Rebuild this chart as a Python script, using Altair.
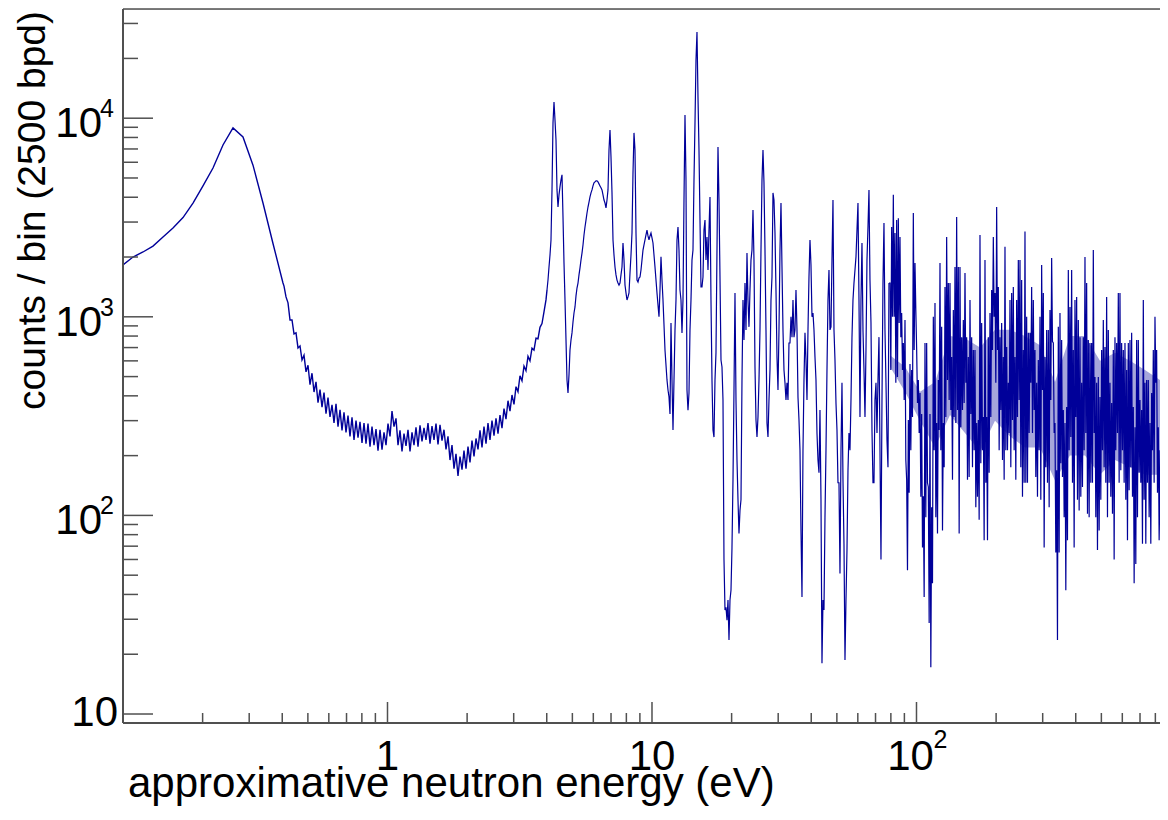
import altair as alt
import numpy as np
import pandas as pd

# ---- histogram contents (counts / bin), per energy segment ----
seg_a_range = [0.1, 0.4026]
seg_a = [1824, 2000, 2120, 2270, 2520, 2800, 3160, 3740, 4560, 5610, 7330, 8930,
         8040, 5800, 3740, 2340, 1480]

seg_b_range = [0.4062, 3.974]
seg_b = [1428, 1259, 1175, 964, 964, 820, 830, 697, 713, 606, 640, 528, 570, 455, 520,
         418, 470, 370, 430, 351, 415, 325, 392, 313, 360, 292, 365, 280, 340, 268, 330,
         262, 318, 250, 312, 240, 300, 246, 296, 232, 292, 230, 290, 222, 280, 226, 272,
         212, 270, 214, 262, 226, 290, 250, 335, 280, 308, 226, 268, 210, 258, 224, 270,
         210, 262, 226, 278, 222, 284, 236, 276, 240, 292, 230, 282, 240, 290, 228, 286,
         238, 270, 215, 250, 190, 226, 172, 204, 158, 198, 170, 212, 172, 222, 185, 238,
         198, 244, 215, 268, 220, 280, 230, 292, 240, 300, 252, 308, 258, 320, 275, 345,
         305, 378, 335, 404, 362, 445, 420, 505, 476, 565, 535, 632, 600, 695, 680, 780,
         775, 885, 925, 1060, 1216]

seg_c_range = [4.009, 78.7]
seg_c = [1365, 1531, 1781, 2047, 2437, 4355, 9462, 12076, 9795, 7760, 4355, 3571, 4111,
         4509, 4890, 5183, 3180, 1866, 1216, 764, 481, 413, 510, 681, 764, 830, 942, 1045,
         1121, 1274, 1396, 1479, 1625, 1762, 1932, 2094, 2300, 2582, 2831, 3070, 3332,
         3571, 3784, 4015, 4207, 4355, 4562, 4724, 4778, 4834, 4834, 4778, 4670, 4562,
         4460, 4355, 4111, 3873, 3741, 3532, 3873, 4355, 6920, 8730, 6380, 4207, 2437,
         2047, 1781, 1625, 1531, 1479, 1445, 1479, 1625, 1781, 2354, 1932, 1445, 1319,
         1216, 1259, 1319, 1663, 2047, 2642, 5303, 8433, 6920, 2642, 1531, 1496, 1568,
         1587, 1721, 1932, 2168, 2300, 2437, 2582, 2735, 2553, 2437, 2553, 2642, 2497,
         2354, 2047, 1781, 1531, 1319, 1148, 1000, 1365, 2003, 1531, 1216, 911, 681, 572,
         481, 428, 395, 324, 931, 481, 269, 481, 859, 1216, 2437, 2831, 2168, 1365, 1216,
         830, 1216, 3873, 10380, 4890, 428, 339, 413, 859, 1216, 1932, 2168, 4890, 9462,
         19630, 27160, 12800, 6920, 3070, 1413, 1413, 1587, 2735, 3070, 1932, 2520, 1721,
         2735, 4015, 1216, 481, 269, 248, 481, 660, 2168, 7160, 3873, 1587, 606, 559, 381,
         60, 33.4, 34.5, 29.7, 37.5, 23.6, 37.5, 42, 69, 151, 428, 1319, 381, 190, 120, 81,
         106, 120, 481, 1216, 764, 1479, 859, 2094, 1216, 890, 1365, 1932, 2168, 3449,
         1932, 559, 302, 248, 313, 481, 859, 2168, 4890, 6920, 4724, 2168, 859, 292, 248,
         381, 540, 1216, 1587, 4207, 3873, 2642, 1365, 628, 428, 859, 2168, 3741, 1781,
         859, 540, 465, 381, 465, 381, 738, 738, 1000, 790, 1216, 790, 859, 1365, 859, 395,
         302, 213, 84, 38.8, 213, 481, 830, 606, 381, 859, 1587, 2437, 1824, 1000, 1045,
         859, 628, 481, 260, 190, 164, 339, 120, 18, 37.5, 33.4, 98, 213, 540, 1216, 1721,
         859, 890, 1932, 3873, 859, 606, 368, 269, 146, 146, 51, 213, 465, 151, 72, 18.7,
         37.5, 67, 169, 260, 213, 381, 790, 1216, 1479, 1721, 2003, 2735, 3741, 1216, 313,
         1216, 2354, 859, 540, 313, 681, 1932, 2831, 4355, 1531, 931, 269, 146, 146, 381,
         465, 260, 481, 790, 213, 60, 381, 1479, 2970, 859, 465, 240, 175, 1479]

seg_d_range = [79.4, 889.0]
seg_d = [1479, 540, 2831, 1000, 4111, 1000, 2642, 465, 3070, 498, 3139, 931, 2520, 790,
         1045, 540, 738, 381, 964, 190, 151, 53, 302, 130, 578, 213, 540, 313, 3332, 681,
         1866, 1082, 681, 368, 481, 260, 413, 124, 324, 69, 125, 38.8, 738, 98, 738, 146,
         139, 28.7, 324, 17.2, 110, 45.6, 1000, 213, 1175, 98, 292, 81, 481, 269, 1866,
         213, 890, 84, 292, 175, 1413, 313, 2520, 481, 1479, 381, 1479, 339, 628, 151,
         1082, 313, 1781, 292, 3180, 339, 1781, 81, 1781, 278, 790, 339, 964, 368, 1663,
         465, 790, 151, 628, 156, 1216, 324, 790, 175, 681, 213, 681, 110, 292, 124, 302,
         95, 2582, 183, 931, 213, 313, 75, 1932, 146, 313, 75, 790, 164, 1045, 313, 1365,
         681, 2520, 1000, 1319, 465, 3571, 681, 1413, 213, 790, 339, 931, 190, 628, 151,
         2254, 213, 705, 213, 465, 260, 1216, 175, 1319, 302, 1413, 213, 628, 151, 1216,
         313, 1932, 381,
         1932, 175, 1531, 124, 681, 146, 2685, 146, 1000, 146, 830, 260, 830, 465, 1413,
         260, 1216, 339, 681, 156, 465, 124, 606, 213, 1000, 120, 1824, 428, 1319, 69, 628,
         175, 859, 146, 859, 110, 1082, 381, 1977, 750, 738, 260, 292, 65, 169, 23.6, 890,
         65, 1045, 183, 764, 156, 339, 98, 292, 42, 351, 75, 1721, 213, 1121, 248, 1721,
         146, 681, 69, 1216, 313, 1259, 120, 964, 106, 790, 124, 465, 139, 790, 213, 2003,
         260, 1479, 102, 764, 98, 738, 146, 738, 146, 2168, 260, 498, 98, 465, 67, 498, 84,
         395, 120, 681, 213, 964, 175, 705, 146, 1259, 98, 859, 146, 465, 124, 368, 102,
         681, 60, 790, 213, 738, 260, 1319, 146, 1319, 169, 738, 213, 681, 146, 738, 120,
         540, 75, 738, 134, 764, 175, 830, 124, 351, 45.6, 278, 57, 764, 98, 764, 164, 381,
         146, 339, 72, 1216, 120, 465, 72, 481, 146, 481, 98, 292, 72, 413, 213, 681, 146,
         1000, 465, 681, 130, 278, 75, 213, 55, 628, 67, 790, 233, 738, 169, 628, 67]

# dense core of the high-energy forest (where the bins overlap into a solid band)
core_e = [79.4, 90.5, 103.1, 117.5, 133.9, 152.5, 173.9, 198.1, 225.7, 257.2, 293.0,
          333.9, 380.4, 433.6, 494.1, 563.0, 641.5, 731.0, 833.0]
core_hi = [640, 560, 420, 470, 800, 780, 700, 860, 860, 800, 720, 470, 800, 800, 600,
           660, 600, 540, 481]
core_lo = [560, 420, 300, 220, 320, 260, 210, 300, 250, 220, 220, 150, 200, 200, 160,
           190, 175, 160, 160]

# ---- axes ----
x_major = [1, 10, 100]
x_minor = [0.2, 0.3, 0.4, 0.5, 0.6, 0.7, 0.8, 0.9, 2, 3, 4, 5, 6, 7, 8, 9,
           20, 30, 40, 50, 60, 70, 80, 90, 200, 300, 400, 500, 600, 700, 800]
y_major = [10, 100, 1000, 10000]
y_minor = [20, 30, 40, 50, 60, 70, 80, 90, 200, 300, 400, 500, 600, 700, 800, 900,
           2000, 3000, 4000, 5000, 6000, 7000, 8000, 9000, 20000, 30000]
x_domain = [0.1, 833]
y_domain = [9.01, 35470]

x_title = "approximative neutron energy (eV)"
y_title = "counts / bin (2500 bpd)"


def binned(rng, vals):
    # log-spaced bins inside a segment (2500 bins per decade histogram)
    e = np.logspace(np.log10(rng[0]), np.log10(rng[1]), len(vals))
    return pd.DataFrame({"E": e, "C": vals})


low_part = pd.concat([binned(seg_a_range, seg_a), binned(seg_b_range, seg_b)],
                     ignore_index=True)
mid_part = binned(seg_c_range, seg_c)
high_part = pd.concat([mid_part.tail(1), binned(seg_d_range, seg_d)], ignore_index=True)
low_part = pd.concat([low_part, mid_part.head(1)], ignore_index=True)
core = pd.DataFrame({"E": core_e, "hi": core_hi, "lo": core_lo})

W, H = 1037, 714
FONT = "Liberation Sans"
AX = "#505050"
BLUE = "#000099"

xs = alt.Scale(type="log", domain=x_domain, nice=False)
ys = alt.Scale(type="log", domain=y_domain, nice=False)
one = alt.Data(values=[{"k": 0}])


def hline(df, sw):
    return alt.Chart(df).mark_line(color=BLUE, strokeWidth=sw, clip=True).encode(
        x=alt.X("E:Q", scale=xs, axis=None),
        y=alt.Y("C:Q", scale=ys, axis=None),
    )


core_area = alt.Chart(core).mark_area(color=BLUE, opacity=0.35, clip=True).encode(
    x=alt.X("E:Q", scale=xs, axis=None),
    y=alt.Y("hi:Q", scale=ys, axis=None),
    y2="lo:Q",
)

left = alt.Chart(one).mark_rule(color=AX, strokeWidth=2).encode(
    x=alt.value(0), y=alt.value(0), y2=alt.value(H))
top = alt.Chart(one).mark_rule(color=AX, strokeWidth=1.5).encode(
    x=alt.value(0), x2=alt.value(W), y=alt.value(0))
bottom = alt.Chart(one).mark_rule(color=AX, strokeWidth=2).encode(
    x=alt.value(0), x2=alt.value(W), y=alt.value(H))

xmaj = alt.Chart(pd.DataFrame({"v": x_major})).mark_rule(color=AX, strokeWidth=1.5).encode(
    x=alt.X("v:Q", scale=xs, axis=None), y=alt.value(H), y2=alt.value(H - 21))
xmin = alt.Chart(pd.DataFrame({"v": x_minor})).mark_rule(color=AX, strokeWidth=1.5).encode(
    x=alt.X("v:Q", scale=xs, axis=None), y=alt.value(H), y2=alt.value(H - 10))
ymaj = alt.Chart(pd.DataFrame({"v": y_major})).mark_rule(color=AX, strokeWidth=1.5).encode(
    y=alt.Y("v:Q", scale=ys, axis=None), x=alt.value(0), x2=alt.value(30))
ymin = alt.Chart(pd.DataFrame({"v": y_minor})).mark_rule(color=AX, strokeWidth=1.5).encode(
    y=alt.Y("v:Q", scale=ys, axis=None), x=alt.value(0), x2=alt.value(15))

# y tick labels
ylab_plain = alt.Chart(pd.DataFrame({"v": [10], "t": ["10"]})).mark_text(
    font=FONT, fontSize=42, align="right", baseline="alphabetic", dy=12, color="black"
).encode(y=alt.Y("v:Q", scale=ys, axis=None), x=alt.value(-5), text="t:N")
ylab_pow = alt.Chart(pd.DataFrame({"v": [100, 1000, 10000], "t": ["10", "10", "10"]})).mark_text(
    font=FONT, fontSize=42, align="right", baseline="alphabetic", dy=19, color="black"
).encode(y=alt.Y("v:Q", scale=ys, axis=None), x=alt.value(-21), text="t:N")
ylab_exp = alt.Chart(pd.DataFrame({"v": [100, 1000, 10000], "t": ["2", "3", "4"]})).mark_text(
    font=FONT, fontSize=25, align="left", baseline="alphabetic", dy=-1, color="black"
).encode(y=alt.Y("v:Q", scale=ys, axis=None), x=alt.value(-23), text="t:N")

# x tick labels
xlab = alt.Chart(pd.DataFrame({"v": [1, 10], "t": ["1", "10"]})).mark_text(
    font=FONT, fontSize=42, align="center", baseline="alphabetic", color="black"
).encode(x=alt.X("v:Q", scale=xs, axis=None), y=alt.value(761), text="t:N")
xlab_pow = alt.Chart(pd.DataFrame({"v": [100], "t": ["10"]})).mark_text(
    font=FONT, fontSize=42, align="center", baseline="alphabetic", dx=-6, color="black"
).encode(x=alt.X("v:Q", scale=xs, axis=None), y=alt.value(761), text="t:N")
xlab_exp = alt.Chart(pd.DataFrame({"v": [100], "t": ["2"]})).mark_text(
    font=FONT, fontSize=25, align="left", baseline="alphabetic", dx=17, color="black"
).encode(x=alt.X("v:Q", scale=xs, axis=None), y=alt.value(739), text="t:N")

# axis titles
xt = alt.Chart(pd.DataFrame({"t": [x_title]})).mark_text(
    font=FONT, fontSize=42, align="left", baseline="alphabetic", color="black"
).encode(x=alt.value(5), y=alt.value(788), text="t:N")
yt = alt.Chart(pd.DataFrame({"t": [y_title]})).mark_text(
    font=FONT, fontSize=39, align="right", baseline="alphabetic", angle=270, color="black"
).encode(x=alt.value(-78), y=alt.value(2), text="t:N")

chart = alt.layer(
    core_area, hline(low_part, 1.4), hline(mid_part, 1.2), hline(high_part, 1.2),
    left, top, bottom, xmaj, xmin, ymaj, ymin,
    ylab_plain, ylab_pow, ylab_exp, xlab, xlab_pow, xlab_exp, xt, yt
).properties(
    width=W, height=H,
    autosize=alt.AutoSizeParams(type="none"),
    padding={"left": 115, "top": 1, "right": 0, "bottom": 83},
).configure_view(stroke=None).configure(background="white")

chart.save("out.html", embed_options={"renderer": "svg", "actions": False})
